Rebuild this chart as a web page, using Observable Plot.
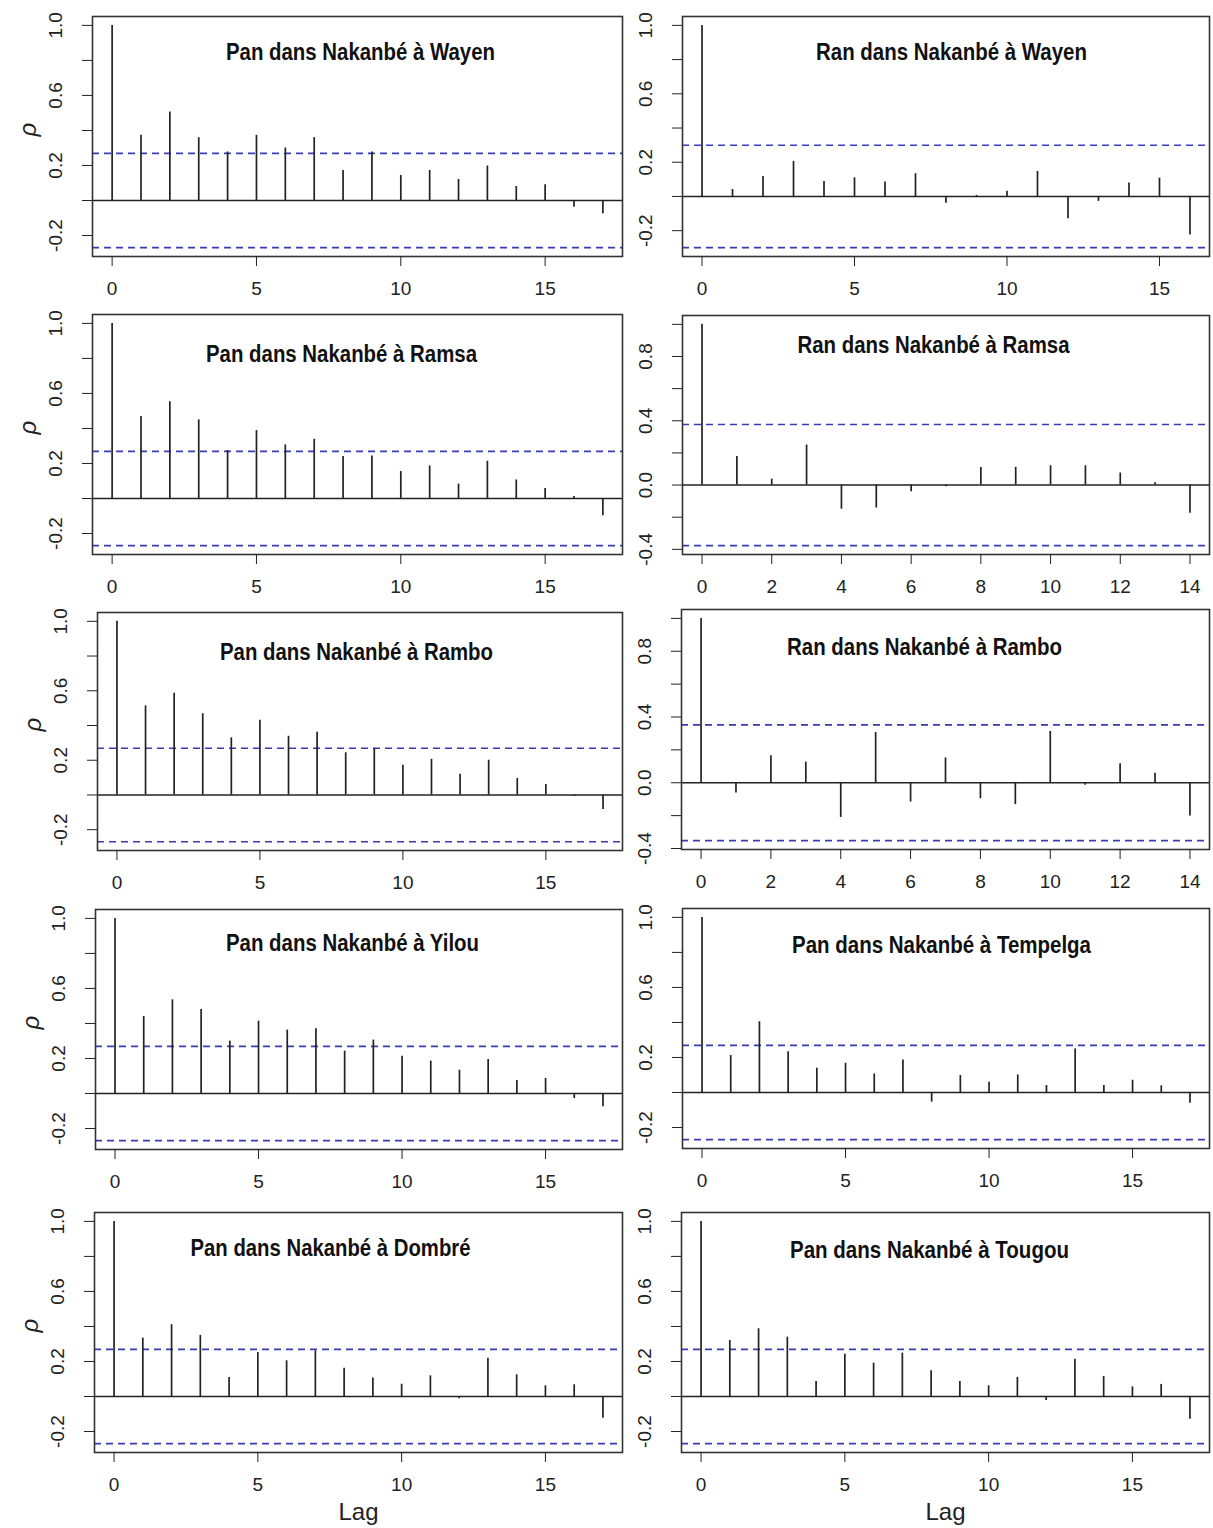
<!DOCTYPE html>
<html><head><meta charset="utf-8">
<script src="https://cdn.jsdelivr.net/npm/d3@7"></script>
<script src="https://cdn.jsdelivr.net/npm/@observablehq/plot@0.6"></script>
<style>
body{margin:0;background:#fff;}
#root{position:relative;width:1213px;height:1528px;overflow:hidden;background:#fff;}
.panel{position:absolute;}
.panel svg{overflow:visible;}
</style></head><body><div id="root"></div>
<script>
// ---- data ----
const titles = [
  "Pan dans Nakanbé à Wayen", "Ran dans Nakanbé à Wayen",
  "Pan dans Nakanbé à Ramsa", "Ran dans Nakanbé à Ramsa",
  "Pan dans Nakanbé à Rambo", "Ran dans Nakanbé à Rambo",
  "Pan dans Nakanbé à Yilou", "Pan dans Nakanbé à Tempelga",
  "Pan dans Nakanbé à Dombré", "Pan dans Nakanbé à Tougou"
];
const acfPanWayen    = [1.0, 0.372, 0.506, 0.359, 0.277, 0.372, 0.300, 0.359, 0.172, 0.277, 0.143, 0.172, 0.120, 0.197, 0.080, 0.090, -0.038, -0.076];
const acfRanWayen    = [1.0, 0.041, 0.117, 0.205, 0.088, 0.109, 0.084, 0.133, -0.039, 0.006, 0.031, 0.146, -0.131, -0.029, 0.078, 0.107, -0.225];
const acfPanRamsa    = [1.0, 0.468, 0.553, 0.449, 0.274, 0.388, 0.306, 0.338, 0.240, 0.243, 0.154, 0.186, 0.082, 0.213, 0.106, 0.057, 0.011, -0.099];
const acfRanRamsa    = [1.0, 0.177, 0.037, 0.249, -0.150, -0.143, -0.042, -0.010, 0.110, 0.110, 0.120, 0.120, 0.075, 0.015, -0.175];
const acfPanRambo    = [1.0, 0.513, 0.586, 0.468, 0.329, 0.430, 0.338, 0.361, 0.243, 0.268, 0.171, 0.205, 0.120, 0.200, 0.095, 0.061, -0.008, -0.084];
const acfRanRambo    = [1.0, -0.062, 0.165, 0.125, -0.211, 0.306, -0.117, 0.151, -0.097, -0.133, 0.312, -0.015, 0.115, 0.058, -0.203];
const acfPanYilou    = [1.0, 0.440, 0.535, 0.480, 0.299, 0.413, 0.362, 0.370, 0.242, 0.305, 0.213, 0.185, 0.133, 0.194, 0.074, 0.086, -0.029, -0.076];
const acfPanTempelga = [1.0, 0.211, 0.404, 0.233, 0.139, 0.167, 0.106, 0.186, -0.055, 0.097, 0.059, 0.100, 0.040, 0.249, 0.040, 0.070, 0.038, -0.061];
const acfPanDombre   = [1.0, 0.333, 0.410, 0.349, 0.109, 0.251, 0.204, 0.261, 0.162, 0.105, 0.070, 0.118, -0.013, 0.219, 0.124, 0.061, 0.067, -0.124];
const acfPanTougou   = [1.0, 0.320, 0.387, 0.339, 0.086, 0.242, 0.190, 0.248, 0.147, 0.086, 0.061, 0.109, -0.023, 0.213, 0.114, 0.055, 0.069, -0.130];
const confBounds = [0.269, 0.299, 0.269, 0.377, 0.269, 0.352, 0.269, 0.269, 0.269, 0.269];
const xTicksA = [0, 5, 10, 15];
const xTicksB = [0, 2, 4, 6, 8, 10, 12, 14];
const yTicksA = [-0.2, 0, 0.2, 0.4, 0.6, 0.8, 1.0];
const yLabelsA = [-0.2, 0.2, 0.6, 1.0];
const yTicksB = [-0.4, -0.2, 0, 0.2, 0.4, 0.6, 0.8, 1.0];
const yLabelsB = [-0.4, 0, 0.4, 0.8];
const yAxisLabel = "ρ";
const xAxisLabel = "Lag";

const series = [acfPanWayen, acfRanWayen, acfPanRamsa, acfRanRamsa, acfPanRambo,
                acfRanRambo, acfPanYilou, acfPanTempelga, acfPanDombre, acfPanTougou];
const xTickSets = [xTicksA, xTicksA, xTicksA, xTicksB, xTicksA, xTicksB, xTicksA, xTicksA, xTicksA, xTicksA];
const yTickSets = [yTicksA, yTicksA, yTicksA, yTicksB, yTicksA, yTicksB, yTicksA, yTicksA, yTicksA, yTicksA];
const yLabelSets = [yLabelsA, yLabelsA, yLabelsA, yLabelsB, yLabelsA, yLabelsB, yLabelsA, yLabelsA, yLabelsA, yLabelsA];

// ---- layout (page pixels) ----
const cols = [{left: 0, width: 630, boxRight: 622}, {left: 630, width: 583, boxRight: 1209}];
const layout = [
  {col: 0, boxLeft: 92, top: 16, bottom: 256, tx: 360, ty: 52, tw: 269},
  {col: 1, boxLeft: 682, top: 16, bottom: 256, tx: 951, ty: 52, tw: 271},
  {col: 0, boxLeft: 92, top: 314, bottom: 554, tx: 341, ty: 354, tw: 271},
  {col: 1, boxLeft: 682, top: 315, bottom: 554, tx: 933, ty: 345, tw: 272},
  {col: 0, boxLeft: 97, top: 612, bottom: 850, tx: 356, ty: 652, tw: 273},
  {col: 1, boxLeft: 681, top: 609, bottom: 849, tx: 924, ty: 647, tw: 275},
  {col: 0, boxLeft: 95, top: 909, bottom: 1149, tx: 352, ty: 943, tw: 253},
  {col: 1, boxLeft: 682, top: 908, bottom: 1148, tx: 941, ty: 945, tw: 299},
  {col: 0, boxLeft: 94, top: 1212, bottom: 1452, tx: 330, ty: 1248, tw: 280},
  {col: 1, boxLeft: 681, top: 1212, bottom: 1452, tx: 929, ty: 1250, tw: 279}
];

const tickFont = "'Liberation Sans', Arial, sans-serif";
const titleFont = "'Liberation Sans', Arial, sans-serif";
const root = document.getElementById("root");

series.forEach((vals, i) => {
  const L = layout[i];
  const C = cols[L.col];
  const ci = confBounds[i];
  const maxLag = vals.length - 1;
  const data = vals.map((v, k) => ({lag: k, acf: v}));
  const lo = Math.min(-ci, d3.min(vals));
  const hi = Math.max(ci, d3.max(vals));
  const span = hi - lo;
  const yDom = [lo - 0.04 * span, hi + 0.04 * span];
  const xDom = [-0.04 * maxLag, maxLag * 1.04];
  const mt = 16, mb = 50;
  const boxH = L.bottom - L.top;
  const marks = [
    Plot.ruleY([0], {stroke: "#222", strokeWidth: 1.5}),
    Plot.ruleY([ci, -ci], {stroke: "#3b3bb3", strokeDasharray: "7,5", strokeWidth: 1.6}),
    Plot.ruleX(data, {x: "lag", y1: 0, y2: "acf", stroke: "#222", strokeWidth: 1.7}),
    Plot.frame({stroke: "#333", strokeWidth: 1.6}),
    Plot.axisX({ticks: xTickSets[i], tickSize: 10, tickPadding: 15, fontSize: 19, label: null, tickFormat: d => String(d)}),
    Plot.axisY({ticks: yTickSets[i], tickSize: 10, label: null, tickFormat: () => ""}),
    Plot.text(yLabelSets[i], {y: d => d, frameAnchor: "left", dx: -37, rotate: -90,
      text: d => d.toFixed(1), fontSize: 19, textAnchor: "middle", lineAnchor: "middle", fill: "#222"}),
    Plot.text([titles[i]], {frameAnchor: "top-left", dx: L.tx - L.boxLeft, dy: L.ty - L.top,
      textAnchor: "middle", lineAnchor: "middle", fontWeight: "bold", fontSize: 23,
      fontFamily: titleFont, fill: "#111"})
  ];
  if (L.col === 0) {
    marks.push(Plot.text([yAxisLabel], {frameAnchor: "left", dx: -64, rotate: -90,
      fontStyle: "italic", fontSize: 24, fill: "#222", lineAnchor: "middle"}));
  }
  if (i >= 8) {
    marks.push(Plot.text([xAxisLabel], {frameAnchor: "bottom", dy: 60, fontSize: 24,
      fill: "#222", lineAnchor: "middle"}));
  }
  const chart = Plot.plot({
    width: C.width,
    height: mt + boxH + mb,
    marginTop: mt, marginBottom: mb,
    marginLeft: L.boxLeft - C.left,
    marginRight: C.left + C.width - C.boxRight,
    x: {domain: xDom, axis: null, label: null},
    y: {domain: yDom, axis: null, label: null},
    style: {background: "transparent", overflow: "visible", fontFamily: tickFont, color: "#222"},
    marks
  });
  // condense the bold title to the narrow width seen in the reference
  chart.querySelectorAll("text").forEach(t => {
    if (t.textContent === titles[i]) {
      t.setAttribute("textLength", L.tw);
      t.setAttribute("lengthAdjust", "spacingAndGlyphs");
    }
  });
  const div = document.createElement("div");
  div.className = "panel";
  div.style.left = C.left + "px";
  div.style.top = (L.top - mt) + "px";
  div.appendChild(chart);
  root.appendChild(div);
});
</script>
</body></html>
